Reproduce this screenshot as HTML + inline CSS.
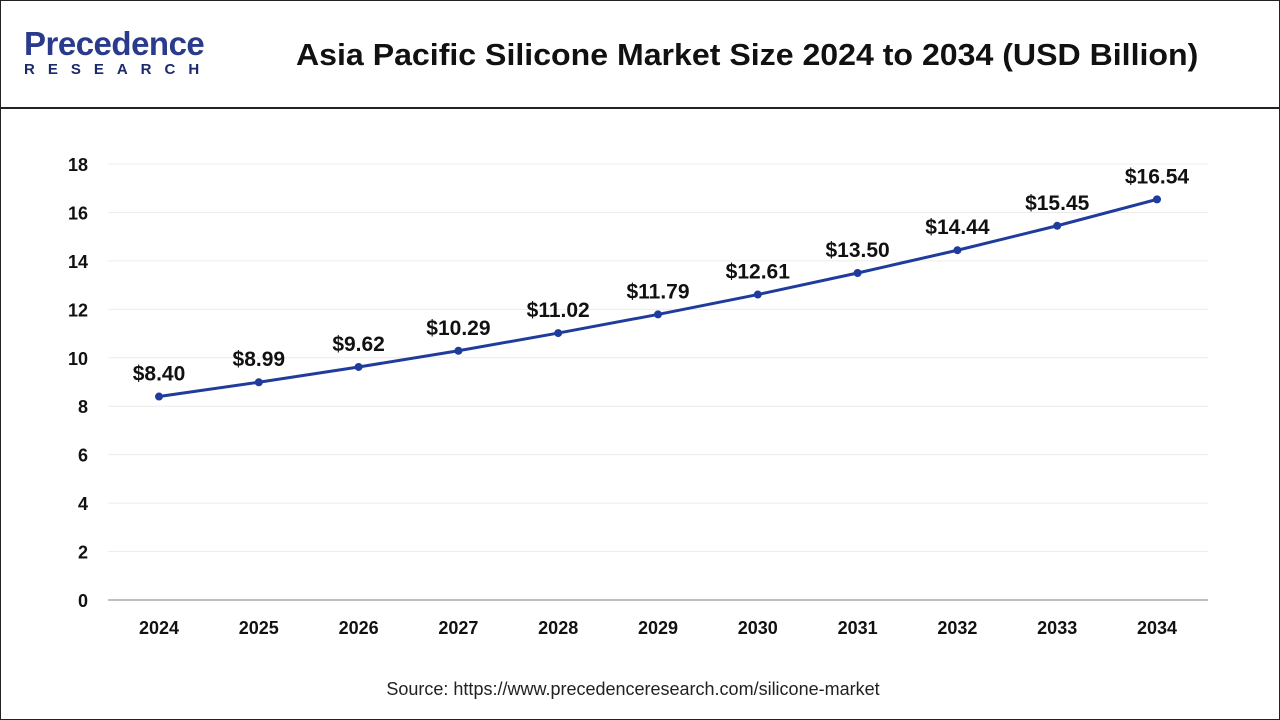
<!DOCTYPE html>
<html><head><meta charset="utf-8"><style>
body{margin:0;width:1280px;height:720px;background:#fff;font-family:"Liberation Sans",sans-serif;overflow:hidden}
#frame{position:absolute;left:0;top:0;width:1278px;height:718px;border:1px solid #222}
#hdr{position:absolute;left:0;top:0;width:1280px;height:107px;border-bottom:2px solid #222}
</style></head><body>
<div id="frame"></div>
<div id="hdr">
  <div style="position:absolute;left:24px;top:28px;">
    <div style="font-size:33px;color:#2a3a8c;font-weight:bold;line-height:32px;letter-spacing:-0.5px">Precedence</div>
    <div style="font-size:15px;color:#1a2a6c;font-weight:bold;letter-spacing:13px;margin-top:1px">RESEARCH</div>
  </div>
  <div style="position:absolute;left:296px;top:37px;font-size:31px;font-weight:bold;color:#111;transform:scaleX(1.035);transform-origin:left top;white-space:nowrap">Asia Pacific Silicone Market Size 2024 to 2034 (USD Billion)</div>
</div>
<svg id="chart" width="1280" height="720" style="position:absolute;left:0;top:0"></svg>
<div style="position:absolute;left:0;width:1266px;top:679px;text-align:center;font-size:18px;color:#222">Source: https://www.precedenceresearch.com/silicone-market</div>
<script>
const years=["2024","2025","2026","2027","2028","2029","2030","2031","2032","2033","2034"];
const values=[8.40,8.99,9.62,10.29,11.02,11.79,12.61,13.50,14.44,15.45,16.54];
const yTicks=[0,2,4,6,8,10,12,14,16,18];
const NS="http://www.w3.org/2000/svg";
const svg=document.getElementById('chart');
const x=i=>159+i*99.8;
const y=v=>600-v*(436/18);
function mk(t,a,txt){const e=document.createElementNS(NS,t);for(const k in a)e.setAttribute(k,a[k]);if(txt!==undefined)e.textContent=txt;svg.appendChild(e);return e;}
yTicks.forEach(t=>{
  if(t>0){const g=mk('line',{x1:108,x2:1208,y1:y(t),y2:y(t),stroke:'#ececec','stroke-width':1});
  }
  const l=mk('text',{x:88,y:y(t)+7,'text-anchor':'end','font-size':18,'font-weight':'bold',fill:'#111','font-family':'Liberation Sans'},t);
  
});
const ax=mk('line',{x1:108,x2:1208,y1:600,y2:600,stroke:'#aaa','stroke-width':1.5});

years.forEach((yr,i)=>{
  const l=mk('text',{x:x(i),y:634,'text-anchor':'middle','font-size':18,'font-weight':'bold',fill:'#111','font-family':'Liberation Sans'},yr);
  
});
const pl=mk('polyline',{points:values.map((v,i)=>x(i)+','+y(v)).join(' '),fill:'none',stroke:'#1f3c9c','stroke-width':3});

values.forEach((v,i)=>{
  const c=mk('circle',{cx:x(i),cy:y(v),r:4,fill:'#1f3c9c'});
  
  const l=mk('text',{x:x(i),y:y(v)-16,'text-anchor':'middle','font-size':21,'font-weight':'bold',fill:'#111','font-family':'Liberation Sans'},'$'+v.toFixed(2));
  
});
</script>
</body></html>
